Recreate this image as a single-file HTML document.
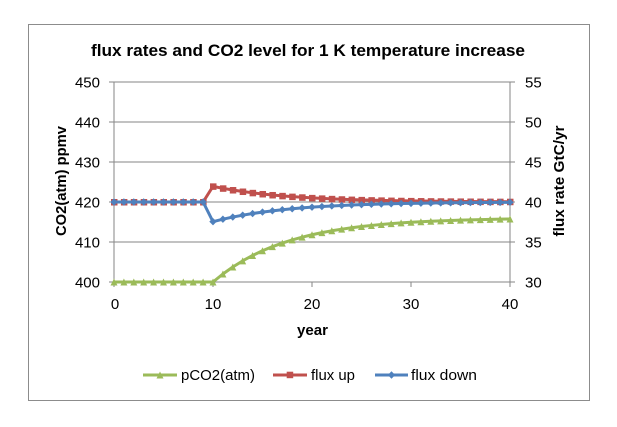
<!DOCTYPE html>
<html>
<head>
<meta charset="utf-8">
<style>
  html,body{margin:0;padding:0;background:#fff;}
  svg{display:block;}
  text{font-family:"Liberation Sans", Arial, sans-serif;fill:#000;}
</style>
</head>
<body>
<svg width="617" height="427" viewBox="0 0 617 427" xmlns="http://www.w3.org/2000/svg">
  <defs>
    <marker id="tri" markerUnits="userSpaceOnUse" markerWidth="10" markerHeight="10" refX="5" refY="5" orient="0" overflow="visible">
      <polygon points="1.5,8.5 8.5,8.5 5,1.5" fill="#9BBB59"/>
    </marker>
    <marker id="sq" markerUnits="userSpaceOnUse" markerWidth="10" markerHeight="10" refX="5" refY="5" orient="0" overflow="visible">
      <rect x="2" y="2" width="6.5" height="6.5" fill="#C0504D"/>
    </marker>
    <marker id="dia" markerUnits="userSpaceOnUse" markerWidth="10" markerHeight="10" refX="5" refY="5" orient="0" overflow="visible">
      <polygon points="5,1.3 8.7,5 5,8.7 1.3,5" fill="#4F81BD"/>
    </marker>
  </defs>

  <rect x="0" y="0" width="617" height="427" fill="#fff"/>
  <!-- chart border -->
  <rect x="28.5" y="24.5" width="561" height="376" fill="#fff" stroke="#8c8c8c" stroke-width="1"/>

  <!-- title -->
  <text x="308" y="56" font-size="17" font-weight="bold" text-anchor="middle" textLength="434" lengthAdjust="spacingAndGlyphs">flux rates and CO2 level for 1 K temperature increase</text>

  <!-- gridlines -->
  <g stroke="#868686" stroke-width="1" shape-rendering="crispEdges">
    <line x1="109" y1="82" x2="515" y2="82"/>
    <line x1="109" y1="122" x2="515" y2="122"/>
    <line x1="109" y1="162" x2="515" y2="162"/>
    <line x1="109" y1="202" x2="515" y2="202"/>
    <line x1="109" y1="242" x2="515" y2="242"/>
    <line x1="109" y1="282" x2="515" y2="282"/>
    <!-- axes -->
    <line x1="114" y1="82" x2="114" y2="287"/>
    <line x1="510" y1="82" x2="510" y2="287"/>
    <!-- x ticks -->
    <line x1="213" y1="282" x2="213" y2="287"/>
    <line x1="312" y1="282" x2="312" y2="287"/>
    <line x1="411" y1="282" x2="411" y2="287"/>
  </g>

  <!-- left tick labels -->
  <g font-size="15" text-anchor="end">
    <text x="100" y="87.5">450</text>
    <text x="100" y="127.5">440</text>
    <text x="100" y="167.5">430</text>
    <text x="100" y="207.5">420</text>
    <text x="100" y="247.5">410</text>
    <text x="100" y="287.5">400</text>
  </g>
  <!-- right tick labels -->
  <g font-size="15" text-anchor="start">
    <text x="525" y="87.5">55</text>
    <text x="525" y="127.5">50</text>
    <text x="525" y="167.5">45</text>
    <text x="525" y="207.5">40</text>
    <text x="525" y="247.5">35</text>
    <text x="525" y="287.5">30</text>
  </g>
  <!-- x tick labels -->
  <g font-size="15" text-anchor="middle">
    <text x="115" y="309">0</text>
    <text x="213" y="309">10</text>
    <text x="312" y="309">20</text>
    <text x="411" y="309">30</text>
    <text x="510" y="309">40</text>
  </g>

  <!-- axis titles -->
  <text x="312.5" y="335" font-size="15" font-weight="bold" text-anchor="middle" textLength="31" lengthAdjust="spacingAndGlyphs">year</text>
  <text transform="translate(66,181) rotate(-90)" x="0" y="0" font-size="15" font-weight="bold" text-anchor="middle" textLength="110" lengthAdjust="spacingAndGlyphs">CO2(atm) ppmv</text>
  <text transform="translate(564,181) rotate(-90)" x="0" y="0" font-size="15" font-weight="bold" text-anchor="middle" textLength="111" lengthAdjust="spacingAndGlyphs">flux rate GtC/yr</text>

  <!-- pCO2 (green) -->
  <polyline fill="none" stroke="#9BBB59" stroke-width="3" stroke-linejoin="round"
    marker-start="url(#tri)" marker-mid="url(#tri)" marker-end="url(#tri)"
    points="114,282 123.9,282 133.8,282 143.7,282 153.6,282 163.5,282 173.4,282 183.3,282 193.2,282 203.1,282 213,282 222.9,273.99 232.8,266.98 242.7,260.85 252.6,255.48 262.5,250.78 272.4,246.67 282.3,243.07 292.2,239.92 302.1,237.16 312,234.75 321.9,232.64 331.8,230.79 341.7,229.18 351.6,227.76 361.5,226.52 371.4,225.44 381.3,224.49 391.2,223.66 401.1,222.93 411,222.3 420.9,221.74 430.8,221.25 440.7,220.83 450.6,220.46 460.5,220.13 470.4,219.84 480.3,219.59 490.2,219.37 500.1,219.18 510,219.02"/>

  <!-- flux up (red) -->
  <polyline fill="none" stroke="#C0504D" stroke-width="3" stroke-linejoin="round"
    marker-start="url(#sq)" marker-mid="url(#sq)" marker-end="url(#sq)"
    points="114,202 123.9,202 133.8,202 143.7,202 153.6,202 163.5,202 173.4,202 183.3,202 193.2,202 203.1,202 213,186.36 222.9,188.31 232.8,190.02 242.7,191.52 252.6,192.82 262.5,193.97 272.4,194.97 282.3,195.85 292.2,196.62 302.1,197.29 312,197.88 321.9,198.39 331.8,198.84 341.7,199.24 351.6,199.58 361.5,199.88 371.4,200.15 381.3,200.38 391.2,200.58 401.1,200.76 411,200.91 420.9,201.05 430.8,201.17 440.7,201.27 450.6,201.36 460.5,201.44 470.4,201.51 480.3,201.57 490.2,201.63 500.1,201.67 510,201.71"/>

  <!-- flux down (blue) -->
  <polyline fill="none" stroke="#4F81BD" stroke-width="3" stroke-linejoin="round"
    marker-start="url(#dia)" marker-mid="url(#dia)" marker-end="url(#dia)"
    points="114,202 123.9,202 133.8,202 143.7,202 153.6,202 163.5,202 173.4,202 183.3,202 193.2,202 203.1,202 213,221.65 222.9,219.2 232.8,217.05 242.7,215.17 252.6,213.53 262.5,212.09 272.4,210.83 282.3,209.73 292.2,208.76 302.1,207.92 312,207.18 321.9,206.53 331.8,205.97 341.7,205.47 351.6,205.04 361.5,204.66 371.4,204.33 381.3,204.04 391.2,203.78 401.1,203.56 411,203.37 420.9,203.19 430.8,203.05 440.7,202.92 450.6,202.8 460.5,202.7 470.4,202.61 480.3,202.54 490.2,202.47 500.1,202.41 510,202.36"/>

  <!-- legend -->
  <line x1="143" y1="375" x2="177" y2="375" stroke="#9BBB59" stroke-width="3"/>
  <polygon points="156.5,378.5 163.5,378.5 160,371.5" fill="#9BBB59"/>
  <text x="181" y="380" font-size="15" textLength="74" lengthAdjust="spacingAndGlyphs">pCO2(atm)</text>

  <line x1="273" y1="375" x2="307" y2="375" stroke="#C0504D" stroke-width="3"/>
  <rect x="286.7" y="371.7" width="6.5" height="6.5" fill="#C0504D"/>
  <text x="311" y="380" font-size="15" textLength="44" lengthAdjust="spacingAndGlyphs">flux up</text>

  <line x1="375" y1="375" x2="408" y2="375" stroke="#4F81BD" stroke-width="3"/>
  <polygon points="391.5,371.3 395.2,375 391.5,378.7 387.8,375" fill="#4F81BD"/>
  <text x="411" y="380" font-size="15" textLength="66" lengthAdjust="spacingAndGlyphs">flux down</text>
</svg>
</body>
</html>
